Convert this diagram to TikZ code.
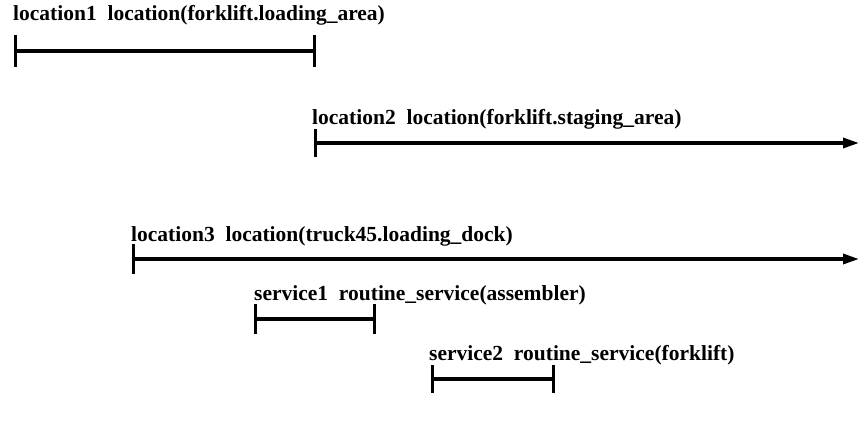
\documentclass[tikz,border=0pt]{standalone}
\usepackage{fontspec}
\setmainfont{Liberation Serif}
\usetikzlibrary{arrows.meta}
\begin{document}
\begin{tikzpicture}[x=1pt,y=-1pt,
  lbl/.style={anchor=base west, inner sep=0pt, font=\fontsize{21.5}{21.5}\selectfont\bfseries},
  span/.style={line width=3.2pt},
  spanarrow/.style={line width=3.2pt, -{Triangle[length=16pt,width=10pt]}},
  tickmark/.style={line width=3pt}]
\useasboundingbox (0,0) rectangle (859,423);
% coordinates
\coordinate (s1) at (15,51);  \coordinate (e1) at (314,51);
\coordinate (s2) at (315,143); \coordinate (e2) at (859,143);
\coordinate (s3) at (133,259); \coordinate (e3) at (859,259);
\coordinate (s4) at (255,319); \coordinate (e4) at (374,319);
\coordinate (s5) at (432,379); \coordinate (e5) at (553,379);
% labels
\node[lbl] (t1) at (13,20) {location1\enspace location(forklift.loading\_area)};
\node[lbl] (t2) at (312,124) {location2\enspace location(forklift.staging\_area)};
\node[lbl] (t3) at (131,241) {location3\enspace location(truck45.loading\_dock)};
\node[lbl] (t4) at (254,300) {service1\enspace routine\_service(assembler)};
\node[lbl] (t5) at (429,360) {service2\enspace routine\_service(forklift)};
% spans
\draw[span] (s1) -- (e1);
\draw[spanarrow] (s2) -- (e2);
\draw[spanarrow] (s3) -- (e3);
\draw[span] (s4) -- (e4);
\draw[span] (s5) -- (e5);
% ticks
\foreach \c/\h in {s1/16,e1/16,s2/14,s3/15,s4/15,e4/15,s5/14,e5/14}
  \draw[tickmark] ([yshift=\h pt]\c) -- ([yshift=-\h pt]\c);
\end{tikzpicture}
\end{document}
